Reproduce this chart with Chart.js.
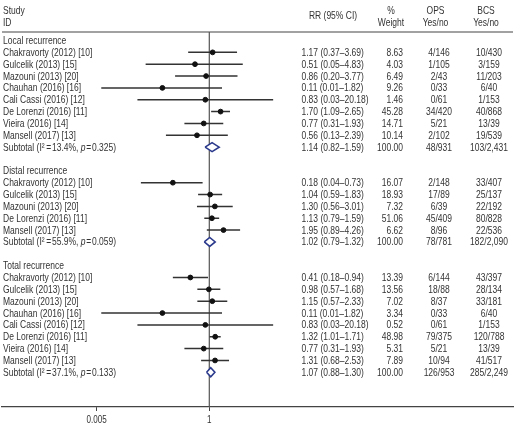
<!DOCTYPE html>
<html>
<head>
<meta charset="utf-8">
<script src="https://cdn.jsdelivr.net/npm/chart.js@4/dist/chart.umd.min.js"></script>
<style>
  body { margin: 0; background: #fff; }
</style>
</head>
<body>
<canvas id="myChart" width="520" height="427"></canvas>
<script>
// ---- data ----
const groups = ['Local recurrence', 'Distal recurrence', 'Total recurrence'];

const localStudies = ['Chakravorty (2012) [10]', 'Gulcelik (2013) [15]', 'Mazouni (2013) [20]', 'Chauhan (2016) [16]',
  'Cali Cassi (2016) [12]', 'De Lorenzi (2016) [11]', 'Vieira (2016) [14]', 'Mansell (2017) [13]'];
const localRR = [1.17, 0.51, 0.86, 0.11, 0.83, 1.70, 0.77, 0.56];
const localLo = [0.37, 0.05, 0.20, 0.0062, 0.034, 1.09, 0.31, 0.13];
const localHi = [3.69, 4.83, 3.77, 1.82, 20.18, 2.65, 1.93, 2.39];
const localWeight = [8.63, 4.03, 6.49, 9.26, 1.46, 45.28, 14.71, 10.14];
const localOPS = ['4/146', '1/105', '2/43', '0/33', '0/61', '34/420', '5/21', '2/102'];
const localBCS = ['10/430', '3/159', '11/203', '6/40', '1/153', '40/868', '13/39', '19/539'];

const distalStudies = ['Chakravorty (2012) [10]', 'Gulcelik (2013) [15]', 'Mazouni (2013) [20]', 'De Lorenzi (2016) [11]', 'Mansell (2017) [13]'];
const distalRR = [0.18, 1.04, 1.30, 1.13, 1.95];
const distalLo = [0.04, 0.59, 0.56, 0.79, 0.89];
const distalHi = [0.73, 1.83, 3.01, 1.59, 4.26];
const distalWeight = [16.07, 18.93, 7.32, 51.06, 6.62];
const distalOPS = ['2/148', '17/89', '6/39', '45/409', '8/96'];
const distalBCS = ['33/407', '25/137', '22/192', '80/828', '22/536'];

const totalStudies = ['Chakravorty (2012) [10]', 'Gulcelik (2013) [15]', 'Mazouni (2013) [20]', 'Chauhan (2016) [16]',
  'Cali Cassi (2016) [12]', 'De Lorenzi (2016) [11]', 'Vieira (2016) [14]', 'Mansell (2017) [13]'];
const totalRR = [0.41, 0.98, 1.15, 0.11, 0.83, 1.32, 0.77, 1.31];
const totalLo = [0.18, 0.57, 0.57, 0.0062, 0.034, 1.01, 0.31, 0.68];
const totalHi = [0.94, 1.68, 2.33, 1.82, 20.18, 1.71, 1.93, 2.53];
const totalWeight = [13.39, 13.56, 7.02, 3.34, 0.52, 48.98, 5.31, 7.89];
const totalOPS = ['6/144', '18/88', '8/37', '0/33', '0/61', '79/375', '5/21', '10/94'];
const totalBCS = ['43/397', '28/134', '33/181', '6/40', '1/153', '120/788', '13/39', '41/517'];

const subRR = [1.14, 1.02, 1.07];
const subLo = [0.82, 0.79, 0.88];
const subHi = [1.59, 1.32, 1.30];
const subOPS = ['48/931', '78/781', '126/953'];
const subBCS = ['103/2,431', '182/2,090', '285/2,249'];
const subI2 = ['13.4', '55.9', '37.1'];
const subP = ['0.325', '0.059', '0.133'];

const tickValues = [0.005, 1];
const tickLabels = ['0.005', '1'];
const nullValue = 1;

// ---- layout / style ----
const fontFamily = '"Liberation Sans", Arial, sans-serif';
const font = '10.5px ' + fontFamily;
const italicFont = 'italic ' + font;
const squeeze = 0.81;   // the original uses a narrow Helvetica
const textColor = '#333';
const lineColor = '#333';
const diamondColor = '#2b3a8c';

const sets = [
  {studies: localStudies, rr: localRR, lo: localLo, hi: localHi, w: localWeight, ops: localOPS, bcs: localBCS},
  {studies: distalStudies, rr: distalRR, lo: distalLo, hi: distalHi, w: distalWeight, ops: distalOPS, bcs: distalBCS},
  {studies: totalStudies, rr: totalRR, lo: totalLo, hi: totalHi, w: totalWeight, ops: totalOPS, bcs: totalBCS}
];

// row numbers (y scale units)
let rows = [];
let r = 0;
const pointData = [];
const ciData = [];
const diamonds = [];
sets.forEach((s, g) => {
  rows.push({type: 'group', label: groups[g], row: r});
  r++;
  s.studies.forEach((name, i) => {
    rows.push({type: 'study', label: name, rr: s.rr[i], lo: s.lo[i], hi: s.hi[i], w: s.w[i], ops: s.ops[i], bcs: s.bcs[i], row: r});
    pointData.push({x: s.rr[i], y: r});
    ciData.push({x: s.lo[i], y: r}, {x: s.hi[i], y: r}, {x: 1, y: null});
    r++;
  });
  rows.push({type: 'sub', i2: subI2[g], p: subP[g], rr: subRR[g], lo: subLo[g], hi: subHi[g], w: 100, ops: subOPS[g], bcs: subBCS[g], row: r});
  const h = 0.38;
  diamonds.push([
    {x: subLo[g], y: r}, {x: subRR[g], y: r - h}, {x: subHi[g], y: r}, {x: subRR[g], y: r + h}, {x: subLo[g], y: r}
  ]);
  r += 2;
});

const rowStep = 11.85;
const firstRowPx = 40.5;
const areaBottom = 407;
const yMin = -firstRowPx / rowStep;
const yMax = (areaBottom - firstRowPx) / rowStep;
const ruleRow = (32 - firstRowPx) / rowStep;
const textNudge = 0.6;  // middle baseline sits a bit high for caps

// log scale: 0.005 at x=96.7, 1 at x=209.3 ; chart area 2..513
const pxPerDecade = (209.3 - 96.7) / Math.log10(1 / 0.005);
const xMin = Math.pow(10, -(209.3 - 2) / pxPerDecade);
const xMax = Math.pow(10, (513 - 209.3) / pxPerDecade);

const fmt = v => v.toFixed(2);

function put(ctx, text, x, y, align, sq) {
  ctx.save();
  ctx.translate(x, y + textNudge);
  ctx.scale(sq || squeeze, 1);
  ctx.textAlign = align || 'left';
  ctx.fillText(text, 0, 0);
  ctx.restore();
}

const textPlugin = {
  id: 'forestText',
  beforeDatasetsDraw(chart) {
    const ctx = chart.ctx;
    const a = chart.chartArea;
    const yp = chart.scales.y.getPixelForValue(ruleRow);
    ctx.save();
    ctx.strokeStyle = '#444';
    ctx.lineWidth = 1.2;
    ctx.beginPath();
    ctx.moveTo(a.left, yp);
    ctx.lineTo(a.right, yp);
    ctx.stroke();
    ctx.restore();
  },
  afterDraw(chart) {
    const ctx = chart.ctx;
    const ys = chart.scales.y;
    const xs = chart.scales.x;
    ctx.save();
    ctx.fillStyle = textColor;
    ctx.font = font;
    ctx.textBaseline = 'middle';

    // x tick labels
    tickValues.forEach((v, i) => {
      put(ctx, tickLabels[i], xs.getPixelForValue(v), 420, 'center', 0.77);
    });

    // headers
    const h1 = ys.getPixelForValue((11 - firstRowPx) / rowStep);
    const h2 = ys.getPixelForValue((22.5 - firstRowPx) / rowStep);
    const hm = ys.getPixelForValue((16 - firstRowPx) / rowStep);
    put(ctx, 'Study', 3, h1);
    put(ctx, 'ID', 3, h2);
    put(ctx, 'RR (95% CI)', 333, hm, 'center');
    put(ctx, '%', 391, h1, 'center');
    put(ctx, 'Weight', 391, h2, 'center');
    put(ctx, 'OPS', 435.5, h1, 'center');
    put(ctx, 'Yes/no', 435.5, h2, 'center');
    put(ctx, 'BCS', 486, h1, 'center');
    put(ctx, 'Yes/no', 486, h2, 'center');

    rows.forEach(row => {
      const y = ys.getPixelForValue(row.row);
      if (row.type === 'group') {
        put(ctx, row.label, 3, y);
        return;
      }
      if (row.type === 'study') {
        put(ctx, row.label, 3, y);
      } else {
        let x = 3;
        const p1 = 'Subtotal (I\u00b2\u2009=\u200a' + row.i2 + '%, ';
        put(ctx, p1, x, y);
        x += ctx.measureText(p1).width * squeeze;
        ctx.font = italicFont;
        put(ctx, 'p', x, y);
        x += ctx.measureText('p').width * squeeze;
        ctx.font = font;
        put(ctx, '\u200a=\u200a' + row.p + ')', x, y);
      }
      put(ctx, fmt(row.rr) + ' (' + fmt(row.lo) + '\u2013' + fmt(row.hi) + ')', 301.5, y);
      put(ctx, fmt(row.w), 403, y, 'right');
      put(ctx, row.ops, 439, y, 'center');
      put(ctx, row.bcs, 489, y, 'center');
    });
    ctx.restore();
  }
};

const datasets = [
  {
    type: 'line', data: [{x: nullValue, y: ruleRow}, {x: nullValue, y: yMax}],
    borderColor: '#555', borderWidth: 1.2, pointRadius: 0, order: 10
  },
  {
    type: 'line', data: ciData, spanGaps: false,
    borderColor: lineColor, borderWidth: 1.5, pointRadius: 0, order: 5
  },
  {
    type: 'scatter', data: pointData,
    backgroundColor: '#111', borderColor: '#111', pointRadius: 2.4, order: 1
  }
];
diamonds.forEach(d => datasets.push({
  type: 'line', data: d, borderColor: diamondColor, borderWidth: 1.6,
  backgroundColor: '#fff', fill: 'shape', pointRadius: 0, tension: 0, order: 2
}));

const ctx = document.getElementById('myChart');
const chart = new Chart(ctx, {
  type: 'scatter',
  data: {datasets: datasets},
  options: {
    responsive: false,
    animation: false,
    layout: {autoPadding: false, padding: {left: 2, right: 7, top: 0, bottom: 0}},
    plugins: {legend: {display: false}, tooltip: {enabled: false}},
    scales: {
      x: {
        type: 'logarithmic',
        min: xMin,
        max: xMax,
        afterBuildTicks: axis => { axis.ticks = tickValues.map(v => ({value: v})); },
        afterFit: axis => { axis.height = 427 - areaBottom; },
        grid: {drawOnChartArea: false, drawTicks: true, tickLength: 4, color: '#444'},
        border: {display: true, color: '#444', width: 1.2},
        ticks: {display: false, autoSkip: false, maxRotation: 0}
      },
      y: {
        type: 'linear', reverse: true, min: yMin, max: yMax, display: false
      }
    }
  },
  plugins: [textPlugin]
});
</script>
</body>
</html>
